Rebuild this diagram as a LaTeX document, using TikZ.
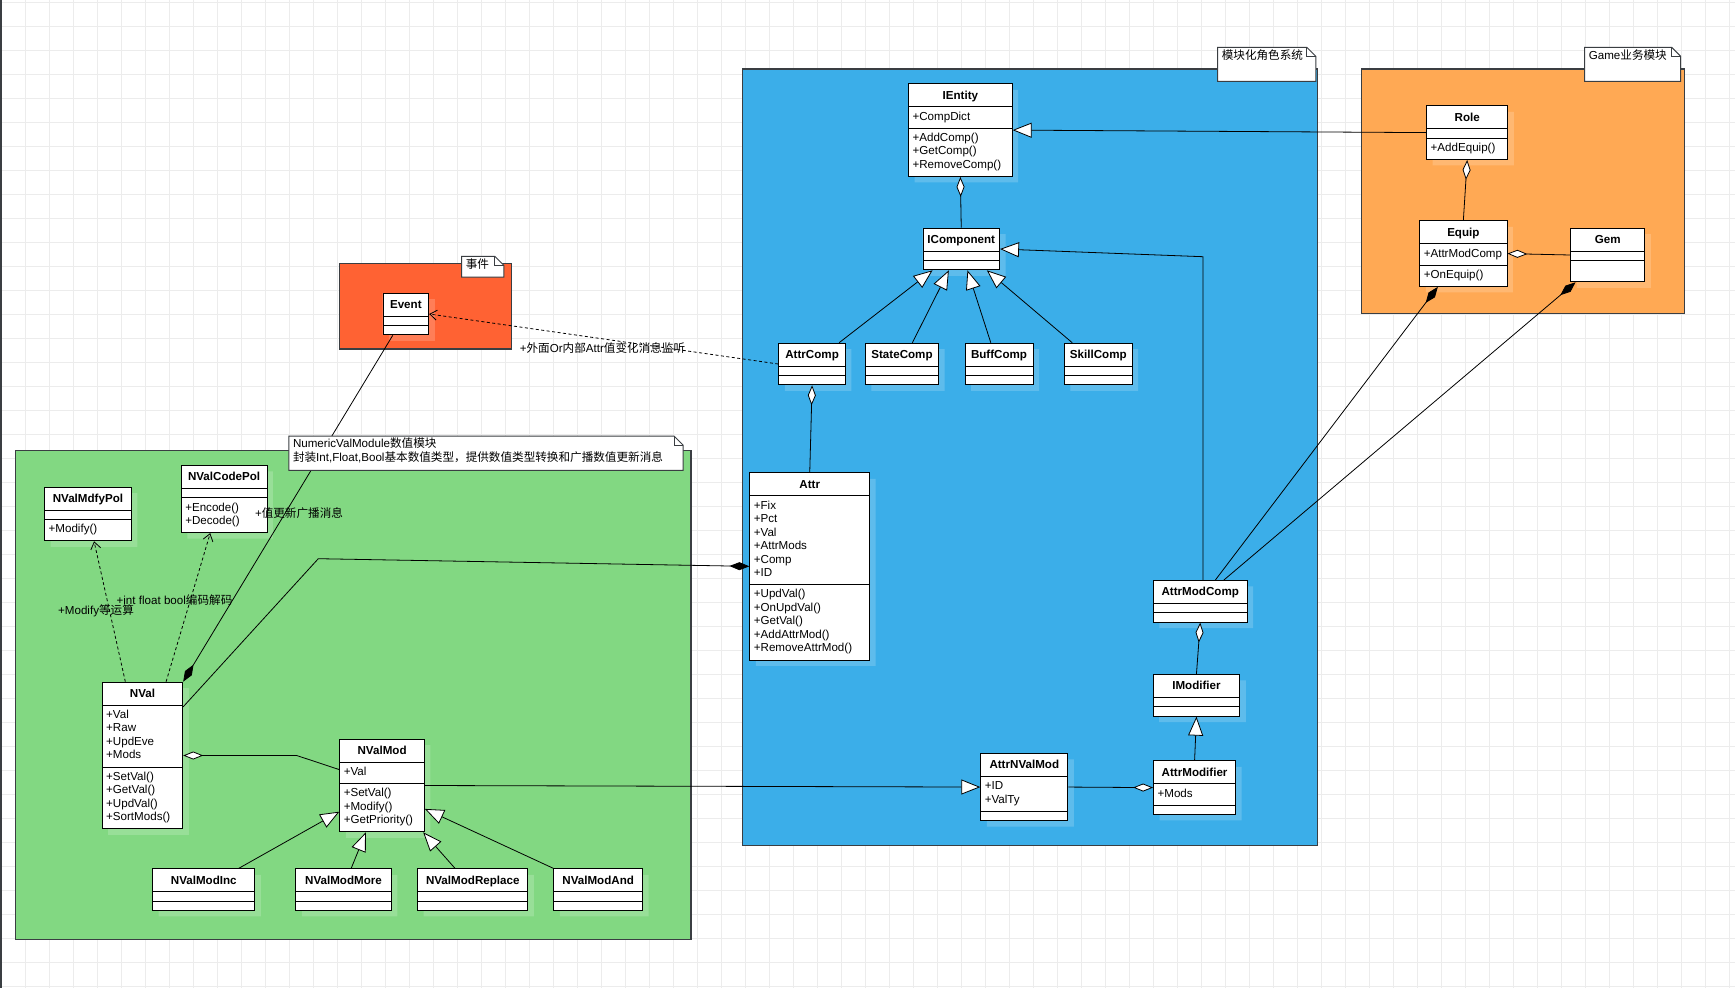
\documentclass[tikz,border=0pt]{standalone}
\usepackage{fontspec}
\setmainfont{Liberation Sans}
\newfontfamily\cjkfont{Noto Sans CJK SC}
\usepackage{tikz}
\usetikzlibrary{positioning, arrows.meta, shapes.multipart, shadows, calc}

\definecolor{pkgblue}{RGB}{59,174,233}
\definecolor{pkggreen}{RGB}{130,216,130}
\definecolor{pkgorange}{RGB}{255,169,84}
\definecolor{pkgred}{RGB}{255,98,51}
\definecolor{gridgray}{RGB}{236,236,236}
\definecolor{edgegray}{RGB}{58,62,66}

\setlength{\parindent}{0pt}
\newcommand{\umlsize}{\fontsize{11.6pt}{13.5pt}\selectfont}
\newcommand{\clsname}[1]{\hspace*{\fill}\rule[-3.5pt]{0pt}{15pt}\textbf{#1}\hspace*{\fill}\mbox{}}
\newcommand{\mbrs}[1]{\strut#1\strut}
\newcommand{\nomb}{\rule{0pt}{1.5pt}}
\newcommand{\zh}[1]{{\cjkfont#1}}

\begin{document}
\begin{tikzpicture}[x=1pt, y=-1pt,
    cls_box/.style={rectangle split, rectangle split parts=3, draw=black, line width=0.9pt,
      fill=white, text width=#1, align=left, inner xsep=4pt, inner ysep=3.5pt,
      font=\umlsize, anchor=north west,
      general shadow={draw=none, fill=white, fill opacity=0.18, shadow xshift=6pt, shadow yshift=-6pt}},
    pkg_box/.style={draw=edgegray, line width=1.2pt},
    tag_line/.style={draw=edgegray, line width=1pt},
    tag_text/.style={anchor=north west, inner xsep=4pt, inner ysep=2pt, font=\umlsize},
    grid_line/.style={draw=gridgray, line width=0.8pt},
    edge_gen/.style={-{Triangle[length=19pt, width=15pt, fill=white]}, line width=0.8pt},
    edge_agg/.style={{Diamond[length=20pt, width=8pt, fill=white]}-, line width=0.8pt},
    edge_comp/.style={{Diamond[length=20pt, width=8pt]}-, line width=0.8pt},
    edge_dep/.style={-{Straight Barb[length=7pt, width=10pt]}, dash pattern=on 3pt off 2.5pt, line width=0.8pt},
    edge_label/.style={font=\umlsize, inner sep=0pt}
  ]
  % canvas
  \useasboundingbox (0,0) rectangle (1735,988);
  \fill[white] (0,0) rectangle (1735,988);
  \foreach \gx in {1,25,...,1730} \draw[grid_line] (\gx,0) -- (\gx,988);
  \foreach \gy in {2,26,...,986} \draw[grid_line] (0,\gy) -- (1735,\gy);
  \fill[edgegray] (0,0) rectangle (2,988);

  % packages
  \draw[pkg_box, fill=pkgred] (339.2,263.3) rectangle (511.2,349);
  \draw[pkg_box, fill=pkgblue] (742.4,69) rectangle (1317.5,845.7);
  \draw[pkg_box, fill=pkgorange] (1361.7,69) rectangle (1684.8,313.3);
  \draw[pkg_box, fill=pkggreen] (15.6,450.7) rectangle (691,939.3);
  \foreach \tgn/\tgx/\tgy/\tgw/\tgh/\tgt in {tagEvent/461.6/256.3/42.2/20.7/\zh{事件},
      tagRole/1217.6/47.3/98.2/34/\zh{模块化角色系统},
      tagGame/1584.6/47.3/96.1/34/Game\zh{业务模块}}{
    \draw[tag_line, fill=white] (\tgx,\tgy) -- ++(\tgw-9,0) -- ++(9,9) -- ++(0,\tgh-9) -- ++(-\tgw,0) -- cycle;
    \draw[tag_line] (\tgx+\tgw-9,\tgy) -- ++(0,9) -- ++(9,0);
    \node[tag_text] (\tgn) at (\tgx,\tgy) {\tgt};
  }

  % event
  \node[cls_box=37.8pt] (Event) at (382.5,292.7) {\clsname{Event}\nodepart{two}\nomb\nodepart{three}\nomb};

  % role system
  \node[cls_box=95.6pt] (IEntity) at (908.1,83.3) {\clsname{IEntity}\nodepart{two}\mbrs{+CompDict}\nodepart{three}\mbrs{+AddComp()\\+GetComp()\\+RemoveComp()}};
  \node[cls_box=68.6pt] (IComp) at (922.5,227.7) {\clsname{IComponent}\nodepart{two}\nomb\nodepart{three}\nomb};
  \node[cls_box=58.7pt] (AttrComp) at (778.3,342.7) {\clsname{AttrComp}\nodepart{two}\nomb\nodepart{three}\nomb};
  \node[cls_box=65.3pt, right=19pt of AttrComp] (StateComp) {\clsname{StateComp}\nodepart{two}\nomb\nodepart{three}\nomb};
  \node[cls_box=60pt, right=25.5pt of StateComp] (BuffComp) {\clsname{BuffComp}\nodepart{two}\nomb\nodepart{three}\nomb};
  \node[cls_box=59.7pt, right=30.5pt of BuffComp] (SkillComp) {\clsname{SkillComp}\nodepart{two}\nomb\nodepart{three}\nomb};
  \node[cls_box=111.8pt] (Attr) at (749.4,472.3) {\clsname{Attr}\nodepart{two}\mbrs{+Fix\\+Pct\\+Val\\+AttrMods\\+Comp\\+ID}\nodepart{three}\mbrs{+UpdVal()\\+OnUpdVal()\\+GetVal()\\+AddAttrMod()\\+RemoveAttrMod()}};
  \node[cls_box=85.6pt] (AttrModComp) at (1153,580) {\clsname{AttrModComp}\nodepart{two}\nomb\nodepart{three}\nomb};
  \node[cls_box=78.6pt] (IModifier) at (1152.7,674) {\clsname{IModifier}\nodepart{two}\nomb\nodepart{three}\nomb};
  \node[cls_box=74.1pt] (AttrModifier) at (1153.1,760.3) {\clsname{AttrModifier}\nodepart{two}\mbrs{+Mods}\nodepart{three}\nomb};
  \node[cls_box=79.1pt] (AttrNValMod) at (980.3,753) {\clsname{AttrNValMod}\nodepart{two}\mbrs{+ID\\+ValTy}\nodepart{three}\nomb};

  % game module
  \node[cls_box=73.1pt] (Role) at (1426.2,105.3) {\clsname{Role}\nodepart{two}\nomb\nodepart{three}\mbrs{+AddEquip()}};
  \node[cls_box=79.2pt] (Equip) at (1419.3,220.3) {\clsname{Equip}\nodepart{two}\mbrs{+AttrModComp}\nodepart{three}\mbrs{+OnEquip()}};
  \node[cls_box=66.1pt] (Gem) at (1570.3,227.7) {\clsname{Gem}\nodepart{two}\nomb\nodepart{three}\strut};

  % numeric values
  \node[cls_box=78.6pt] (NValMdfyPol) at (44.2,486.7) {\clsname{NValMdfyPol}\nodepart{two}\nomb\nodepart{three}\mbrs{+Modify()}};
  \node[cls_box=77.7pt] (NValCodePol) at (180.8,465) {\clsname{NValCodePol}\nodepart{two}\nomb\nodepart{three}\mbrs{+Encode()\\+Decode()}};
  \node[cls_box=72.6pt] (NVal) at (101.7,681.7) {\clsname{NVal}\nodepart{two}\mbrs{+Val\\+Raw\\+UpdEve\\+Mods}\nodepart{three}\mbrs{+SetVal()\\+GetVal()\\+UpdVal()\\+SortMods()}};
  \node[cls_box=76.7pt] (NValMod) at (339.3,738.7) {\clsname{NValMod}\nodepart{two}\mbrs{+Val}\nodepart{three}\mbrs{+SetVal()\\+Modify()\\+GetPriority()}};
  \node[cls_box=94.2pt] (NValModInc) at (152.2,868.3) {\clsname{NValModInc}\nodepart{two}\nomb\nodepart{three}\nomb};
  \node[cls_box=87.5pt, right=40pt of NValModInc] (NValModMore) {\clsname{NValModMore}\nodepart{two}\nomb\nodepart{three}\nomb};
  \node[cls_box=102.2pt, right=25.5pt of NValModMore] (NValModReplace) {\clsname{NValModReplace}\nodepart{two}\nomb\nodepart{three}\nomb};
  \node[cls_box=80.8pt, right=25pt of NValModReplace] (NValModAnd) {\clsname{NValModAnd}\nodepart{two}\nomb\nodepart{three}\nomb};

  % generalization
  \draw[edge_gen] (Role.west) -- (IEntity.east);
  \foreach \c/\a/\b in {AttrComp/0.9/0.13, StateComp/0.64/0.34, BuffComp/0.38/0.58, SkillComp/0.12/0.83}
    \draw[edge_gen] ($(\c.north west)!\a!(\c.north east)$) -- ($(IComp.south west)!\b!(IComp.south east)$);
  \coordinate (bendComp) at (1203,256.7);
  \draw[edge_gen] (AttrModComp.north -| bendComp) -- (bendComp) -- (IComp.east);
  \draw[edge_gen] (AttrModifier.north) -- (IModifier.south);
  \draw[edge_gen] (NValMod.east) -- (AttrNValMod.west);
  \draw[edge_gen] ($(NValModInc.north west)!0.84!(NValModInc.north east)$) -- ($(NValMod.north west)!0.78!(NValMod.south west)$);
  \draw[edge_gen] ($(NValModMore.north west)!0.58!(NValModMore.north east)$) -- ($(NValMod.south west)!0.31!(NValMod.south east)$);
  \draw[edge_gen] ($(NValModReplace.north west)!0.34!(NValModReplace.north east)$) -- ($(NValMod.south west)!0.98!(NValMod.south east)$);
  \draw[edge_gen] (NValModAnd.north west) -- ($(NValMod.north east)!0.75!(NValMod.south east)$);

  % aggregation
  \draw[edge_agg] (IEntity.south) -- (IComp.north);
  \draw[edge_agg] (AttrComp.south) -- (Attr.north);
  \draw[edge_agg] (AttrModComp.south) -- (IModifier.north);
  \draw[edge_agg] (AttrModifier.west) -- (AttrNValMod.east);
  \draw[edge_agg] (Role.south) -- (Equip.north);
  \draw[edge_agg] (Equip.east) -- (Gem.west);
  \coordinate (bendMods) at (296.7,752.7);
  \draw[edge_agg] (NVal.east) -- (NVal.east -| bendMods) -- ($(NValMod.north west)!0.33!(NValMod.south west)$);

  % composition
  \draw[edge_comp] (NVal.north east) -- ($(Event.south west)!0.22!(Event.south east)$);
  \coordinate (bendAttr) at (318.3,558.7);
  \draw[edge_comp] (Attr.west) -- (bendAttr) -- ($(NVal.north east)!0.17!(NVal.south east)$);
  \draw[edge_comp] ($(Equip.south west)!0.21!(Equip.south east)$) -- ($(AttrModComp.north west)!0.66!(AttrModComp.north east)$);
  \draw[edge_comp] ($(Gem.south west)!0.07!(Gem.south east)$) -- ($(AttrModComp.north west)!0.75!(AttrModComp.north east)$);

  % dependency
  \draw[edge_dep] (AttrComp.west) -- (Event.east);
  \draw[edge_dep] ($(NVal.north west)!0.29!(NVal.north east)$) -- ($(NValMdfyPol.south west)!0.57!(NValMdfyPol.south east)$);
  \draw[edge_dep] ($(NVal.north west)!0.79!(NVal.north east)$) -- ($(NValCodePol.south west)!0.34!(NValCodePol.south east)$);

  \node[edge_label] (lblListen) at (602.5,348.3) {+\zh{外面}Or\zh{内部}Attr\zh{值变化消息监听}};
  \node[edge_label] (lblBroadcast) at (299,512.7) {+\zh{值更新广播消息}};
  \node[edge_label] (lblCodec) at (174.5,600) {+int float bool\zh{编码解码}};
  \node[edge_label] (lblModify) at (96,611) {+Modify\zh{等运算}};

  % module note
  \coordinate (noteNW) at (288.8,436);
  \draw[tag_line, fill=white] (noteNW) -- ++(385.2,0) -- ++(9,9) -- ++(0,25.3) -- ++(-394.2,0) -- cycle;
  \draw[tag_line] ($(noteNW)+(385.2,0)$) -- ++(0,9) -- ++(9,0);
  \node[tag_text, align=left] (noteNVal) at (noteNW) {NumericValModule\zh{数值模块}\\\zh{封装}Int,Float,Bool\zh{基本数值类型，提供数值类型转换和广播数值更新消息}};
\end{tikzpicture}
\end{document}
